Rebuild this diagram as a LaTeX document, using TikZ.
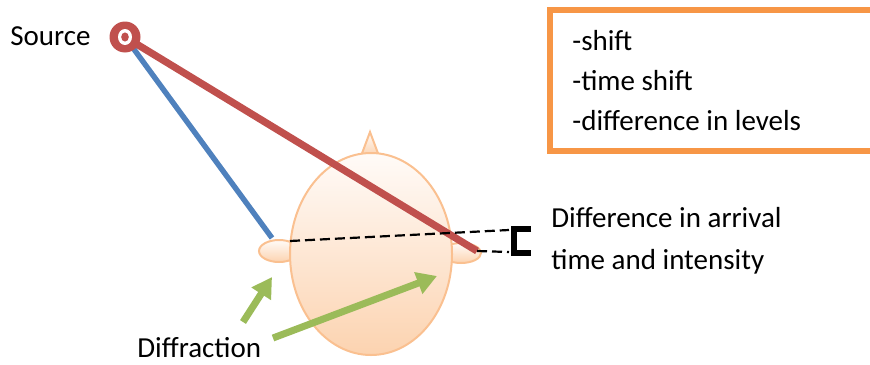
\documentclass[tikz,border=0pt]{standalone}
\usepackage{fontspec}
\setmainfont{Carlito}
\usepackage{xcolor}
\usepackage{tikz}
\usetikzlibrary{positioning,arrows.meta,shapes.geometric}

\definecolor{srcred}{HTML}{C0504D}
\definecolor{pathblue}{HTML}{4F81BD}
\definecolor{diffgreen}{HTML}{9BBB59}
\definecolor{boxorange}{HTML}{F79646}
\definecolor{skinline}{HTML}{FAC090}
\definecolor{skintop}{HTML}{FFFBF8}
\definecolor{skinbot}{HTML}{FCD3B0}

\begin{document}
\begin{tikzpicture}[x=0.5pt, y=-0.5pt, font=\fontsize{14.5}{17}\selectfont,
		txt/.style={inner sep=0pt, anchor=base west},
		skin/.style={draw=skinline, line width=1pt, top color=skintop, bottom color=skinbot},
		ray/.style={line width=3.6pt},
		gap/.style={line width=1.1pt, dash pattern=on 5pt off 2.5pt},
		arr/.style={diffgreen, line width=3.5pt, -{Triangle[length=10pt, width=11pt]}}]
		\path[use as bounding box, clip] (0,0) rectangle (870,364);

		% head with ears and nose
		\node[skin, ellipse, minimum width=20pt, minimum height=11pt] (lear) at (279,251) {};
		\node[skin, ellipse, minimum width=20pt, minimum height=10pt] (rear) at (461,253) {};
		\draw[skin] (361,156) -- (370,132) -- (379,156) -- cycle;
		\node[skin, ellipse, minimum width=81pt, minimum height=101pt] (head) at (371,254) {};

		% source and the two paths
		\coordinate (src) at (125,37);
		\coordinate (lin) at (272,238);
		\coordinate (rin) at (477,251);
		\draw[ray, pathblue, line width=2.7pt] (src) -- (lin);
		\draw[ray, srcred] (src) -- (rin);
		\fill[srcred] (src) circle (15.5);
		\fill[white] (src) ellipse (7 and 8);
		\fill[srcred] (src) ellipse (3.8 and 4.6);
		\node[txt] (srclabel) at (10,45) {Source};

		% arrival difference
		\coordinate (lmark) at (290,241);
		\coordinate (top) at (509,230);
		\coordinate (bot) at (509,252);
		\draw[gap] (lmark) -- (top);
		\draw[gap] (rin) -- (bot);
		\draw[line width=2.6pt] (531,229) -- (514,229) -- (514,253) -- (531,253);
		\draw[line width=1.5pt] (515.5,229) -- (515.5,253);
		\node[txt] (diff1) at (551,227) {Difference in arrival};
		\node[txt] (diff2) at (551,269) {time and intensity};

		% diffraction
		\coordinate (d1) at (243,322);
		\coordinate (d2) at (273,338);
		\draw[arr] (d1) -- (272,277);
		\draw[arr] (d2) -- (437,276);
		\node[txt] (diffr) at (137,357) {Diffraction};

		% cues
		\draw[boxorange, line width=3pt] (549.5,9.5) rectangle (900,151);
		\foreach \t [count=\i] in {-shift, -time shift, -difference in levels}
			\node[txt] (cue\i) at (572,10+40*\i) {\t};
	\end{tikzpicture}
\end{document}
